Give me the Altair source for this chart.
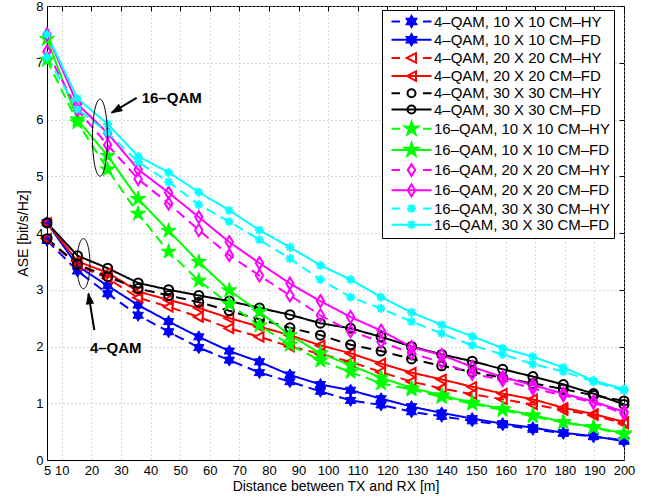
import altair as alt
import pandas as pd

# ---------------- data ----------------
distance = [5, 15.3, 25.5, 35.8, 46.1, 56.3, 66.6, 76.8, 87.1, 97.4,
            107.6, 117.9, 128.2, 138.4, 148.7, 159.0, 169.2, 179.5, 189.7, 200]

series_names = [
    "4–QAM, 10 X 10 CM–HY", "4–QAM, 10 X 10 CM–FD",
    "4–QAM, 20 X 20 CM–HY", "4–QAM, 20 X 20 CM–FD",
    "4–QAM, 30 X 30 CM–HY", "4–QAM, 30 X 30 CM–FD",
    "16–QAM, 10 X 10 CM–HY", "16–QAM, 10 X 10 CM–FD",
    "16–QAM, 20 X 20 CM–HY", "16–QAM, 20 X 20 CM–FD",
    "16–QAM, 30 X 30 CM–HY", "16–QAM, 30 X 30 CM–FD",
]
series_style = ["HY", "FD"] * 6

qam4_10_hy = [3.87, 3.33, 2.93, 2.55, 2.26, 1.98, 1.76, 1.54, 1.38, 1.21, 1.05, 0.97, 0.85, 0.77, 0.69, 0.62, 0.54, 0.47, 0.41, 0.35]
qam4_10_fd = [4.18, 3.42, 3.07, 2.73, 2.44, 2.17, 1.92, 1.73, 1.50, 1.33, 1.23, 1.08, 0.94, 0.83, 0.73, 0.64, 0.57, 0.48, 0.42, 0.33]
qam4_20_hy = [3.90, 3.43, 3.20, 2.86, 2.70, 2.52, 2.32, 2.17, 2.00, 1.87, 1.73, 1.55, 1.38, 1.26, 1.16, 1.07, 0.98, 0.88, 0.79, 0.64]
qam4_20_fd = [4.18, 3.50, 3.30, 2.97, 2.82, 2.68, 2.50, 2.35, 2.20, 2.02, 1.88, 1.70, 1.54, 1.42, 1.29, 1.17, 1.07, 0.92, 0.81, 0.67]
qam4_30_hy = [3.90, 3.45, 3.23, 3.02, 2.90, 2.78, 2.63, 2.48, 2.33, 2.20, 2.03, 1.92, 1.78, 1.66, 1.55, 1.45, 1.35, 1.25, 1.14, 1.04]
qam4_30_fd = [4.18, 3.60, 3.38, 3.12, 3.00, 2.90, 2.80, 2.68, 2.56, 2.41, 2.32, 2.17, 2.00, 1.86, 1.74, 1.60, 1.47, 1.33, 1.17, 0.98]
qam16_10_hy = [7.05, 5.95, 5.12, 4.34, 3.67, 3.16, 2.75, 2.37, 2.03, 1.75, 1.55, 1.35, 1.24, 1.11, 0.99, 0.88, 0.77, 0.66, 0.57, 0.45]
qam16_10_fd = [7.42, 6.00, 5.36, 4.60, 4.04, 3.49, 2.99, 2.61, 2.20, 1.88, 1.67, 1.45, 1.27, 1.14, 1.01, 0.90, 0.79, 0.67, 0.58, 0.47]
qam16_20_hy = [7.20, 6.17, 5.55, 4.95, 4.52, 4.05, 3.61, 3.25, 2.90, 2.55, 2.27, 2.08, 1.88, 1.72, 1.52, 1.41, 1.26, 1.14, 1.01, 0.82]
qam16_20_fd = [7.50, 6.27, 5.76, 5.12, 4.71, 4.28, 3.84, 3.47, 3.11, 2.80, 2.52, 2.28, 1.99, 1.85, 1.64, 1.46, 1.32, 1.17, 1.03, 0.85]
qam16_30_hy = [7.10, 6.18, 5.77, 5.25, 4.90, 4.50, 4.20, 3.88, 3.55, 3.18, 2.87, 2.67, 2.44, 2.23, 2.02, 1.86, 1.69, 1.56, 1.38, 1.22]
qam16_30_fd = [7.50, 6.37, 5.92, 5.35, 5.07, 4.72, 4.40, 4.05, 3.75, 3.43, 3.18, 2.87, 2.60, 2.38, 2.18, 1.97, 1.82, 1.63, 1.40, 1.25]

series_values = [qam4_10_hy, qam4_10_fd, qam4_20_hy, qam4_20_fd, qam4_30_hy, qam4_30_fd,
                 qam16_10_hy, qam16_10_fd, qam16_20_hy, qam16_20_fd, qam16_30_hy, qam16_30_fd]

x_ticks = [5, 10, 20, 30, 40, 50, 60, 70, 80, 90, 100, 110, 120, 130, 140, 150, 160, 170, 180, 190, 200]
y_ticks = [0, 1, 2, 3, 4, 5, 6, 7, 8]

# annotations (data coordinates)
ann_text = ["16–QAM", "4–QAM"]
ann_text_x = [37.0, 19.5]
ann_text_y = [6.38, 1.98]
arrow_x = [35.3, 21.0]
arrow_y = [6.38, 2.29]
arrow_x2 = [26.9, 19.0]
arrow_y2 = [6.12, 2.93]
arrow_angle = [240, 351]
ellipse_x = [22.9, 17.3]
ellipse_y = [5.68, 3.46]

# ---------------- styles ----------------
colors = ["#0000ff", "#0000ff", "#ff0000", "#ff0000", "#000000", "#000000",
          "#00ff00", "#00ff00", "#ff00ff", "#ff00ff", "#00ffff", "#00ffff"]

HEX = "M0,-1L0.866,0.5L-0.866,0.5ZM0,1L-0.866,-0.5L0.866,-0.5Z"
TRI = "M-1,0L0.8,-0.95L0.8,0.95Z"
STAR = ("M0,-1L0.2245,-0.309L0.9511,-0.309L0.3633,0.118L0.5878,0.809L0,0.382"
        "L-0.5878,0.809L-0.3633,0.118L-0.9511,-0.309L-0.2245,-0.309Z")
DIA = "M0,-1L0.62,0L0,1L-0.62,0Z"
AST = "M0,-1V1M-1,0H1M-0.7,-0.7L0.7,0.7M-0.7,0.7L0.7,-0.7"

# group: (series indices, marker shape, marker size, filled, colour)
groups = [
    ([0, 1], HEX, 144, True, "#0000ff"),
    ([2, 3], TRI, 100, False, "#ff0000"),
    ([4, 5], "circle", 81, False, "#000000"),
    ([6, 7], STAR, 256, True, "#00ff00"),
    ([8, 9], DIA, 144, False, "#ff00ff"),
    ([10, 11], AST, 81, False, "#00ffff"),
]

# legend symbol paths (unit = 5 px), marker centred at x=3.6
LINE_SOLID = "M-0.4,0H7.6"
LINE_DASH = "M-0.4,0H1.3M5.9,0H7.6"
LM_HEX = "M3.6,-1.1L4.553,0.55L2.647,0.55ZM3.6,1.1L2.647,-0.55L4.553,-0.55Z"
LM_TRI = "M2.65,0L4.5,-0.95L4.5,0.95Z"
LM_CIR = "M4.4,0A0.8,0.8 0 1,1 2.8,0A0.8,0.8 0 1,1 4.4,0Z"
LM_STAR = ("M3.6,-1.4L3.914,-0.433L4.932,-0.433L4.109,0.165L4.423,1.133L3.6,0.535"
           "L2.777,1.133L3.091,0.165L2.268,-0.433L3.286,-0.433Z")
LM_DIA = "M3.6,-1.2L4.35,0L3.6,1.2L2.85,0Z"
LM_AST = "M3.6,-0.9V0.9M2.7,0H4.5M2.96,-0.64L4.24,0.64M2.96,0.64L4.24,-0.64"
legend_markers = [LM_HEX, LM_HEX, LM_TRI, LM_TRI, LM_CIR, LM_CIR,
                  LM_STAR, LM_STAR, LM_DIA, LM_DIA, LM_AST, LM_AST]
legend_shapes = [(LINE_DASH if i % 2 == 0 else LINE_SOLID) + m for i, m in enumerate(legend_markers)]
legend_fills = ["#0000ff", "#0000ff", "transparent", "transparent", "transparent", "transparent",
                "#00ff00", "#00ff00", "transparent", "transparent", "transparent", "transparent"]

# ---------------- tables ----------------
rows = []
for gi, (name, vals) in enumerate(zip(series_names, series_values)):
    for d, v in zip(distance, vals):
        rows.append({"series": name, "sidx": gi, "style": series_style[gi], "distance": d, "ase": v})
df = pd.DataFrame(rows)

ann_df = pd.DataFrame({"text": ann_text, "tx": ann_text_x, "ty": ann_text_y,
                       "ax": arrow_x, "ay": arrow_y, "ax2": arrow_x2, "ay2": arrow_y2,
                       "angle": arrow_angle})
ell_df = pd.DataFrame({"ex": ellipse_x, "ey": ellipse_y})

FONT = "Liberation Sans"
xscale = alt.Scale(domain=[5, 200], nice=False, zero=False)
yscale = alt.Scale(domain=[0, 8], nice=False, zero=True)
stroke_scale = alt.Scale(domain=series_names, range=colors)
dash_scale = alt.Scale(domain=["HY", "FD"], range=[[10, 6], [1, 0]])

x_main = alt.Axis(values=x_ticks, title="Distance between TX and RX [m]", grid=True,
                  ticks=False, labelPadding=4, titlePadding=2, labelFlush=False,
                  labelOverlap=False)
y_main = alt.Axis(values=y_ticks, title="ASE [bit/s/Hz]", grid=True, ticks=False,
                  labelPadding=4, titleX=-24, titleY=227, titleBaseline="middle",
                  titleAlign="center", titleAngle=270)

line_layers = []
point_layers = []
for gi, (idxs, shape, size, filled, color) in enumerate(groups):
    base = alt.Chart(df).transform_filter(alt.FieldOneOfPredicate(field="sidx", oneOf=idxs))
    if gi == 0:
        xe = alt.X("distance:Q", scale=xscale, axis=x_main)
        ye = alt.Y("ase:Q", scale=yscale, axis=y_main)
    else:
        xe = alt.X("distance:Q", scale=xscale, axis=None)
        ye = alt.Y("ase:Q", scale=yscale, axis=None)
    line_layers.append(base.mark_line(color=color, strokeWidth=2).encode(
        x=xe, y=ye,
        strokeDash=alt.StrokeDash("style:N", scale=dash_scale, legend=None),
        detail="series:N",
    ))
    if filled:
        pm = base.mark_point(shape=shape, size=size, filled=True, fill=color,
                             stroke=color, strokeWidth=1, opacity=1)
    else:
        pm = base.mark_point(shape=shape, size=size, filled=False,
                             stroke=color, strokeWidth=2, opacity=1)
    point_layers.append(pm.encode(
        x=alt.X("distance:Q", scale=xscale, axis=None),
        y=alt.Y("ase:Q", scale=yscale, axis=None),
    ))

leg = alt.Legend(title=None, orient="none", legendX=335, legendY=4, direction="vertical",
                 labelFont=FONT, labelFontSize=15, labelColor="black", labelLimit=400,
                 symbolSize=100, symbolStrokeWidth=2, labelOffset=33, rowPadding=-0.8,
                 padding=4, strokeColor="black", fillColor="white", symbolOpacity=1,
                 cornerRadius=0)

legend_layer = alt.Chart(df).mark_point(opacity=0, filled=True, strokeWidth=2).encode(
    x=alt.X("distance:Q", scale=xscale,
            axis=alt.Axis(orient="top", offset=-5, values=x_ticks, ticks=True, tickSize=5,
                          tickColor="black", labels=False, domain=False, grid=False, title=None)),
    y=alt.Y("ase:Q", scale=yscale,
            axis=alt.Axis(orient="right", offset=-5, values=y_ticks, ticks=True, tickSize=5,
                          tickColor="black", labels=False, domain=False, grid=False, title=None)),
    shape=alt.Shape("series:N", scale=alt.Scale(domain=series_names, range=legend_shapes), legend=leg),
    stroke=alt.Stroke("series:N", scale=stroke_scale, legend=leg),
    fill=alt.Fill("series:N", scale=alt.Scale(domain=series_names, range=legend_fills), legend=leg),
)

ell1 = alt.Chart(ell_df.iloc[[0]]).mark_point(
    shape="M0,-1A0.195,1 0 1,1 0,1A0.195,1 0 1,1 0,-1", size=5929, filled=False,
    stroke="black", strokeWidth=1, opacity=1
).encode(x=alt.X("ex:Q", scale=xscale, axis=None), y=alt.Y("ey:Q", scale=yscale, axis=None))
ell2 = alt.Chart(ell_df.iloc[[1]]).mark_point(
    shape="M0,-1A0.26,1 0 1,1 0,1A0.26,1 0 1,1 0,-1", size=2500, filled=False,
    stroke="black", strokeWidth=1, opacity=1
).encode(x=alt.X("ex:Q", scale=xscale, axis=None), y=alt.Y("ey:Q", scale=yscale, axis=None))

arrow_lines = alt.Chart(ann_df).mark_rule(color="black", strokeWidth=2).encode(
    x=alt.X("ax:Q", scale=xscale, axis=None), y=alt.Y("ay:Q", scale=yscale, axis=None),
    x2="ax2:Q", y2="ay2:Q")
arrow_heads = alt.Chart(ann_df).mark_point(
    shape="M0,0L0.55,1.6L-0.55,1.6Z", size=156, filled=True, fill="black", stroke="black",
    strokeWidth=1, opacity=1
).encode(x=alt.X("ax2:Q", scale=xscale, axis=None), y=alt.Y("ay2:Q", scale=yscale, axis=None),
         angle=alt.Angle("angle:Q", scale=None))
ann_texts = alt.Chart(ann_df).mark_text(
    align="left", baseline="middle", font=FONT, fontSize=15, fontWeight="bold", color="black"
).encode(x=alt.X("tx:Q", scale=xscale, axis=None), y=alt.Y("ty:Q", scale=yscale, axis=None),
         text="text:N")

chart = alt.layer(*line_layers, *point_layers, legend_layer, ell1, ell2,
                  arrow_lines, arrow_heads, ann_texts).resolve_axis(
    x="independent", y="independent"
).properties(
    width=577, height=454,
    padding={"left": 47, "top": 6, "right": 36, "bottom": 42},
    autosize=alt.AutoSizeParams(type="none"),
    background="white",
).configure_view(
    stroke="black", strokeWidth=1
).configure_axis(
    labelFont=FONT, labelFontSize=13, labelColor="black",
    titleFont=FONT, titleFontSize=14, titleFontWeight="normal", titleColor="black",
    domainColor="black", domainWidth=1,
    gridColor="#b0b0b0", gridDash=[1, 3], gridWidth=1, gridOpacity=1,
)

chart.save("out.html", embed_options={"renderer": "svg", "actions": False})
